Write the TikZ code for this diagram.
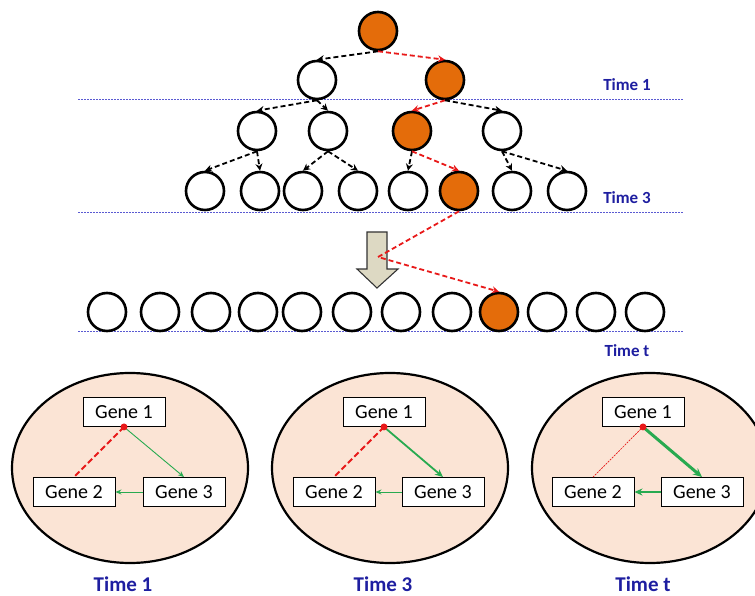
\documentclass[tikz,border=0pt]{standalone}
\usepackage{fontspec}
\setmainfont{Carlito}
\usetikzlibrary{arrows.meta}
\definecolor{orangeF}{RGB}{228,108,10}
\definecolor{peach}{RGB}{251,228,213}
\definecolor{navy}{RGB}{30,30,160}
\definecolor{lineblue}{RGB}{90,90,210}
\definecolor{greenA}{RGB}{40,170,80}
\definecolor{redA}{RGB}{232,25,25}
\definecolor{arrowfill}{RGB}{221,217,195}
\tikzset{
  cnode/.style={circle, draw=black, line width=2.6pt, minimum size=38pt, inner sep=0pt, fill=white},
  onode/.style={cnode, fill=orangeF},
  tedge/.style={black, line width=1.8pt, dash pattern=on 5pt off 3pt, -{Stealth[length=7pt,width=7pt]}},
  redge/.style={redA, line width=1.8pt, dash pattern=on 5pt off 3pt, -{Stealth[length=7pt,width=7pt]}},
  tline/.style={lineblue, line width=0.9pt, dash pattern=on 2pt off 1pt},
  tlabel/.style={text=navy, font=\fontsize{17}{19}\selectfont\bfseries},
  blabel/.style={text=navy, font=\fontsize{21}{24}\selectfont\bfseries},
  gene/.style={draw=black, line width=0.9pt, fill=white, minimum width=82pt, minimum height=29pt, inner sep=0pt, font=\fontsize{20}{22}\selectfont},
  cell/.style={draw=black, line width=2.2pt, fill=peach},
  gthin/.style={greenA, line width=0.9pt, -{Stealth[length=6pt,width=5pt]}},
  gmid/.style={greenA, line width=1.8pt, -{Stealth[length=8pt,width=7pt]}},
  gthick/.style={greenA, line width=3pt, -{Stealth[length=9pt,width=8pt]}},
  rthick/.style={redA, line width=2pt, dash pattern=on 6pt off 3pt},
  rthin/.style={redA, line width=0.7pt, dash pattern=on 2pt off 1pt},
}
\begin{document}
\begin{tikzpicture}[x=1pt, y=-1pt]
\useasboundingbox (0,0) rectangle (755,596);
% time lines
\draw[tline] (78,99) -- (683,99);
\draw[tline] (78,212) -- (683,212);
\draw[tline] (78,331) -- (683,331);
\node[tlabel] (t1) at (627,85) {Time 1};
\node[tlabel] (t3) at (627,198) {Time 3};
\node[tlabel] (tt) at (627,351) {Time t};
% tree
\node[onode] (root) at (378,31) {};
\node[cnode] (a1) at (317,80) {};
\node[onode] (a2) at (445,80) {};
\node[cnode] (b1) at (257,131) {};
\node[cnode] (b2) at (328,131) {};
\node[onode] (b3) at (412,131) {};
\node[cnode] (b4) at (502,131) {};
\foreach \i/\x in {1/205,2/260,3/303,4/358,5/408,7/512,8/567}{
  \node[cnode] (c\i) at (\x,191) {};
}
\node[onode] (c6) at (459,191) {};
\draw[tedge] (root.south) -- (a1.north);
\draw[redge] (root.south) -- (a2.north);
\draw[tedge] (a1.south) -- (b1.north);
\draw[tedge] (a1.south) -- (b2.north);
\draw[redge] (a2.south) -- (b3.north);
\draw[tedge] (a2.south) -- (b4.north);
\draw[tedge] (b1.south) -- (c1.north);
\draw[tedge] (b1.south) -- (c2.north);
\draw[tedge] (b2.south) -- (c3.north);
\draw[tedge] (b2.south) -- (c4.north);
\draw[tedge] (b3.south) -- (c5.north);
\draw[redge] (b3.south) -- (c6.north);
\draw[tedge] (b4.south) -- (c7.north);
\draw[tedge] (b4.south) -- (c8.north);
% block arrow
\draw[fill=arrowfill, draw=black!80, line width=1.1pt, line join=miter]
  (367,232) -- (387,232) -- (387,269) -- (398,269) -- (377,288) -- (357,269) -- (367,269) -- cycle;
% bottom row
\foreach \i/\x in {1/107,2/160,3/211,4/258,5/302,6/352,7/401,8/452,10/547,11/596,12/645}{
  \node[cnode] (d\i) at (\x,312) {};
}
\node[onode] (d9) at (499,312) {};
\coordinate (via) at (378,257);
\draw[redge] (c6.south) -- (via) -- (d9.north);
% cells
\draw[cell] (130,468) ellipse (118 and 95);
\draw[cell] (390,468) ellipse (118 and 95);
\draw[cell] (650,468) ellipse (118 and 95);
% cell 1
\node[gene] (g11) at (124,412) {Gene 1};
\node[gene] (g12) at (74,492) {Gene 2};
\node[gene] (g13) at (184,492) {Gene 3};
\draw[rthick] (g11.south) -- (g12.north);
\draw[gthin] (g11.south) -- (g13.north);
\draw[gthin] (g13.west) -- (g12.east);
\fill[redA] (g11.south) circle (3.5pt);
\node[blabel] (l1) at (123,584) {Time 1};
% cell 2
\node[gene] (g21) at (384,412) {Gene 1};
\node[gene] (g22) at (334,492) {Gene 2};
\node[gene] (g23) at (443,492) {Gene 3};
\draw[rthick] (g21.south) -- (g22.north);
\draw[gmid] (g21.south) -- (g23.north);
\draw[gthin] (g23.west) -- (g22.east);
\fill[redA] (g21.south) circle (3.5pt);
\node[blabel] (l2) at (383,584) {Time 3};
% cell 3
\node[gene] (g31) at (643,412) {Gene 1};
\node[gene] (g32) at (593,492) {Gene 2};
\node[gene] (g33) at (702,492) {Gene 3};
\draw[rthin] (g31.south) -- (g32.north);
\draw[gthick] (g31.south) -- (g33.north);
\draw[gmid] (g33.west) -- (g32.east);
\fill[redA] (g31.south) circle (3.5pt);
\node[blabel] (l3) at (643,584) {Time t};
\end{tikzpicture}
\end{document}
